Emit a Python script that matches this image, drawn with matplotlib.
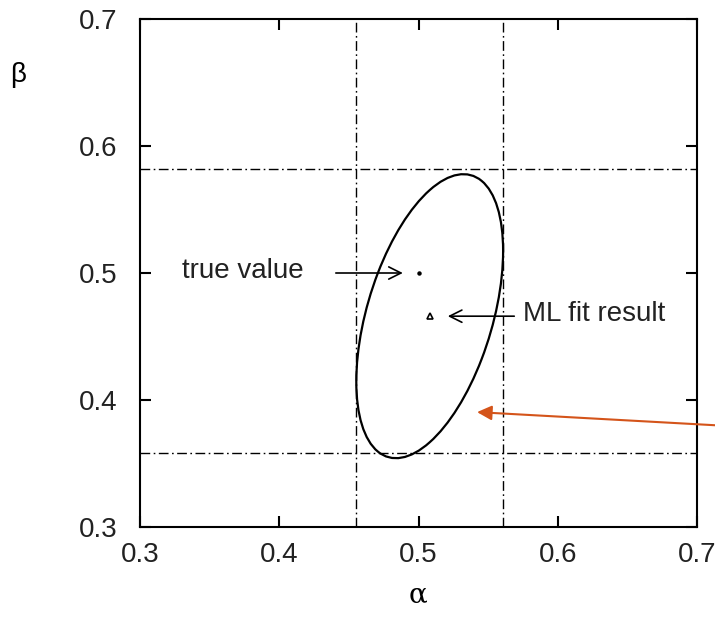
import numpy as np
import matplotlib
matplotlib.use('Agg')
import matplotlib.pyplot as plt
from matplotlib.patches import Ellipse
from matplotlib.transforms import Affine2D

# Ticks
ticks = [0.3, 0.4, 0.5, 0.6, 0.7]
tick_labels = ['0.3', '0.4', '0.5', '0.6', '0.7']

# True value and ML fit result (alpha, beta)
true_value = (0.500, 0.500)
ml_fit = (0.508, 0.466)

# Error ellipse: half-widths and correlation
sigma_alpha = 0.0527
sigma_beta = 0.1118
rho = 0.46

# Bounding lines of the ellipse
alpha_lines = [0.455, 0.5607]
beta_lines = [0.358, 0.5815]

plt.rcParams['font.family'] = ['Liberation Sans', 'DejaVu Sans']

fig = plt.figure(figsize=(7.15, 6.31), dpi=100)
ax = fig.add_axes([0.1958, 0.1648, 0.975 - 0.1958, 0.9699 - 0.1648])
ax.set_xlim(0.3, 0.7)
ax.set_ylim(0.3, 0.7)

dashdot = (0, (7, 2.5, 1.2, 2.5))
for a in alpha_lines:
    ax.axvline(a, color='black', lw=1.0, linestyle=dashdot)
for b in beta_lines:
    ax.axhline(b, color='black', lw=1.0, linestyle=dashdot)

# ellipse: unit circle mapped through the covariance factor
tr = Affine2D(np.array([
    [sigma_alpha, 0.0, ml_fit[0]],
    [sigma_beta * rho, sigma_beta * np.sqrt(1 - rho ** 2), ml_fit[1]],
    [0.0, 0.0, 1.0]]))
ell = Ellipse((0, 0), 2, 2, fill=False, edgecolor='black', lw=1.6,
              transform=tr + ax.transData)
ax.add_patch(ell)

ax.plot(true_value[0], true_value[1], marker='o', markersize=2.2, color='black')
ax.plot(ml_fit[0], ml_fit[1], marker='^', markersize=5, markerfacecolor='white',
        markeredgecolor='black', markeredgewidth=1.2, linestyle='none')

ax.annotate('', xy=(0.4907, 0.500), xytext=(0.4386, 0.500),
            arrowprops=dict(arrowstyle='->', color='black', lw=1.2, mutation_scale=22))
ax.text(0.3302, 0.5015, 'true value', fontsize=20, ha='left', va='center', color='#222222')

ax.annotate('', xy=(0.519, 0.466), xytext=(0.5707, 0.466),
            arrowprops=dict(arrowstyle='->', color='black', lw=1.2, mutation_scale=22))
ax.text(0.575, 0.4675, 'ML fit result', fontsize=20, ha='left', va='center', color='#222222')

# orange pointer
ax.annotate('', xy=(0.540, 0.3906), xytext=(0.715, 0.380),
            arrowprops=dict(arrowstyle='-|>', color='#d4541a', lw=1.5, mutation_scale=22),
            annotation_clip=False)

ax.set_xticks(ticks)
ax.set_yticks(ticks)
ax.set_xticklabels(tick_labels)
ax.set_yticklabels(tick_labels)
ax.tick_params(direction='in', length=8, width=1.5, top=True, right=True,
               labelsize=20, labelcolor='#222222')
ax.tick_params(axis='x', pad=11)
ax.tick_params(axis='y', pad=16)
for s in ax.spines.values():
    s.set_linewidth(1.5)

fig.text(418 / 715, 1 - 595 / 631, 'α', fontsize=20, ha='center', va='center',
         family=['DejaVu Serif'])
fig.text(18 / 715, 1 - 75 / 631, 'β', fontsize=20, ha='center', va='center')

fig.savefig('out.png', dpi=100)
